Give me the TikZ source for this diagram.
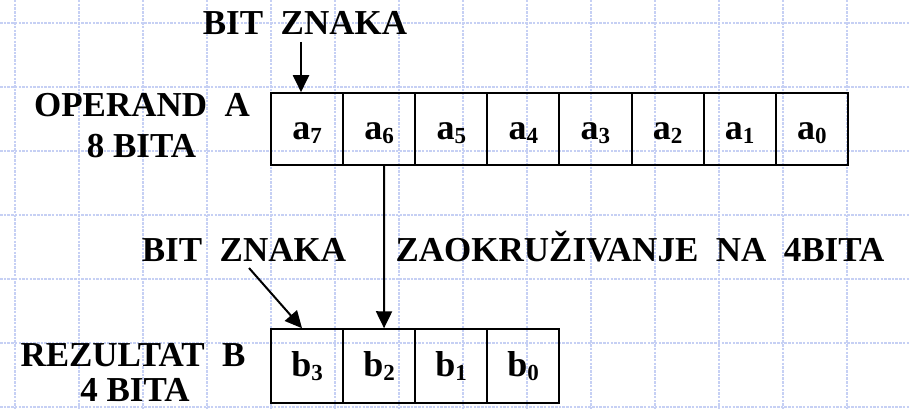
\documentclass[tikz,border=0pt]{standalone}
\usepackage{fontspec}
\setmainfont{Liberation Serif}
\usetikzlibrary{arrows.meta}
\definecolor{gridblue}{RGB}{198,208,244}
\newcommand{\bitlbl}[2]{#1\raisebox{-4pt}{\fontsize{23}{23}\selectfont #2}}
\begin{document}
\begin{tikzpicture}[x=1pt,y=-1pt,
  gridline/.style={draw=gridblue,line width=1.6pt,dash pattern=on 2.5pt off 1.2pt},
  lbl/.style={anchor=base,inner sep=0pt,font=\fontsize{35}{39}\selectfont\bfseries},
  cell/.style={draw,line width=2pt,inner sep=0pt,minimum width=72.1pt,
    text height=25pt,text depth=5pt,font=\fontsize{36}{39}\selectfont\bfseries},
  acell/.style={cell,minimum height=72pt},
  bcell/.style={cell,minimum height=73.5pt},
  arr/.style={line width=2pt,-{Triangle[width=16pt,length=17pt]}}]
\useasboundingbox (0,0) rectangle (909,409);
% background grid
\foreach \gx in {15,79,...,911} \draw[gridline] (\gx,0) -- (\gx,409);
\foreach \gy in {23,87,...,409} \draw[gridline] (0,\gy) -- (909,\gy);
% operand A register (8 bits)
\foreach \i/\k in {0/7,1/6,2/5,3/4,4/3,5/2,6/1,7/0}
  \node[acell] (a\k) at ({307.05+72.1*\i},129.2) {\bitlbl{a}{\k}};
% result B register (4 bits)
\foreach \i/\k in {0/3,1/2,2/1,3/0}
  \node[bcell] (b\k) at ({307.05+72*\i},366) {\bitlbl{b}{\k}};
% labels
\node[lbl] (signA) at (305,35) {BIT~~ZNAKA};
\node[lbl] (opA) at (142,117) {OPERAND~~A};
\node[lbl] (opAbits) at (141.5,157) {8 BITA};
\node[lbl] (signB) at (244,261) {BIT~~ZNAKA};
\node[lbl] (round) at (640,261) {ZAOKRUŽIVANJE~~NA~~4BITA};
\node[lbl] (resB) at (133,366) {REZULTAT~~B};
\node[lbl] (resBbits) at (135,401) {4 BITA};
% connectors
\coordinate (s1) at (301,42);
\draw[arr] (s1) -- (s1 |- a7.north);
\draw[arr] ([xshift=5pt]a6.south) -- ([xshift=5pt]b2.north);
\coordinate (s2) at (249,268);
\draw[arr] (s2) -- ([xshift=-5pt]b3.north);
\end{tikzpicture}
\end{document}
